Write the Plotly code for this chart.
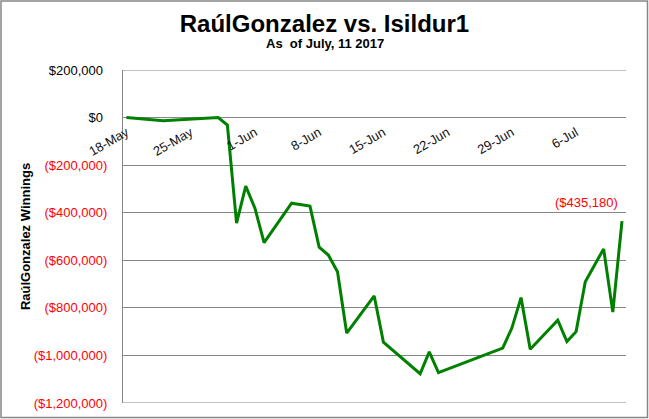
import plotly.graph_objects as go
import pandas as pd

# ── Data ────────────────────────────────────────────────────────────────────
dates = [
    "2017-05-18", "2017-05-22", "2017-05-28", "2017-05-29", "2017-05-30",
    "2017-05-31", "2017-06-01", "2017-06-02", "2017-06-05", "2017-06-07",
    "2017-06-08", "2017-06-09", "2017-06-10", "2017-06-11", "2017-06-14",
    "2017-06-15", "2017-06-19", "2017-06-20", "2017-06-21", "2017-06-28",
    "2017-06-29", "2017-06-30", "2017-07-01", "2017-07-04", "2017-07-05",
    "2017-07-06", "2017-07-07", "2017-07-09", "2017-07-10", "2017-07-11",
]
winnings = [
    0, -13400, 0, -31500, -444000,
    -288000, -381000, -526000, -360000, -372000,
    -545000, -578000, -648000, -906000, -750000,
    -944000, -1077000, -985000, -1072000, -969000,
    -885000, -757000, -974000, -852000, -942000,
    -900000, -690000, -552000, -818000, -435180,
]
y_ticks = [200000, 0, -200000, -400000, -600000, -800000, -1000000, -1200000]

TITLE    = "RaúlGonzalez vs. Isildur1"
SUBTITLE = "As  of July, 11 2017"
Y_TITLE  = "RaúlGonzalez Winnings"

GREEN = "#008000"
RED   = "#ff0000"
GRID  = "#868686"
FONT  = "Liberation Sans, Arial, sans-serif"

W, H = 649, 419
M = dict(l=123, r=23, t=70, b=16)
PW, PH = W - M["l"] - M["r"], H - M["t"] - M["b"]

Y_MIN, Y_MAX = -1200000, 200000


def money(v, colour=True):
    if v >= 0:
        return f"${v:,.0f}\u2004"
    txt = f"(${-v:,.0f})"
    return f"<span style='color:{RED}'>{txt}</span>" if colour else txt


x = pd.to_datetime(dates)
x_lo = x[0] - pd.Timedelta(hours=9)
x_hi = x[-1] + pd.Timedelta(hours=10.5)

fig = go.Figure()
fig.add_trace(go.Scatter(
    x=x, y=winnings, mode="lines",
    line=dict(color=GREEN, width=3),
    showlegend=False, hoverinfo="skip",
))

# top and bottom edges of the value axis (grid lines at the range ends)
for edge in (Y_MIN, Y_MAX):
    fig.add_hline(y=edge, line_width=1, line_color=GRID, layer="below")

# data label on the last point
fig.add_annotation(
    x=x[-1], y=winnings[-1], text=money(winnings[-1], colour=False),
    showarrow=False, xanchor="right", yanchor="bottom",
    xshift=-2, yshift=9, font=dict(color=RED, size=13, family=FONT),
)

# subtitle, centred on the whole chart
fig.add_annotation(
    xref="paper", yref="paper", x=(W / 2 - M["l"]) / PW,
    y=1 + 26 / PH, text=f"<b>{SUBTITLE}</b>", showarrow=False,
    xanchor="center", yanchor="middle",
    font=dict(size=13, color="black", family=FONT),
)

# outer border of the chart
fig.add_shape(
    type="rect", xref="paper", yref="paper",
    x0=(-M["l"] + 1) / PW, x1=1 + (M["r"] - 1.5) / PW,
    y0=(-M["b"] + 1.5) / PH, y1=1 + (M["t"] - 1) / PH,
    line=dict(color=GRID, width=1.5), fillcolor="rgba(0,0,0,0)",
)

fig.update_layout(
    width=W, height=H, margin=M,
    paper_bgcolor="white", plot_bgcolor="white",
    font=dict(family=FONT, size=13, color="black"),
    title=dict(
        text=f"<b>{TITLE}</b>", x=0.5, xref="container", xanchor="center",
        y=1 - 24 / H, yref="container", yanchor="middle",
        font=dict(size=24, color="black", family=FONT),
    ),
    xaxis=dict(
        type="date", range=[x_lo, x_hi],
        anchor="free", position=(0 - Y_MIN) / (Y_MAX - Y_MIN),
        tick0=dates[0], dtick=7 * 24 * 3600 * 1000, tickformat="%-d-%b",
        tickangle=-30, ticks="", showgrid=False, showline=False,
        zeroline=False, ticklabelstandoff=4,
        tickfont=dict(size=13, color="#111"),
    ),
    yaxis=dict(
        range=[Y_MIN, Y_MAX], tickvals=y_ticks,
        ticktext=[money(v) for v in y_ticks],
        showgrid=True, gridcolor=GRID, gridwidth=1,
        showline=True, linecolor=GRID, linewidth=1,
        zeroline=False, ticks="", ticklabelstandoff=12,
        tickfont=dict(size=13),
        title=dict(text=f"<b>{Y_TITLE}</b>", standoff=0,
                   font=dict(size=13, color="black")),
        automargin=False,
    ),
)

fig.write_html(
    "out.html",
    config={"displayModeBar": False},
    post_script="document.body.style.margin='0';",
)
